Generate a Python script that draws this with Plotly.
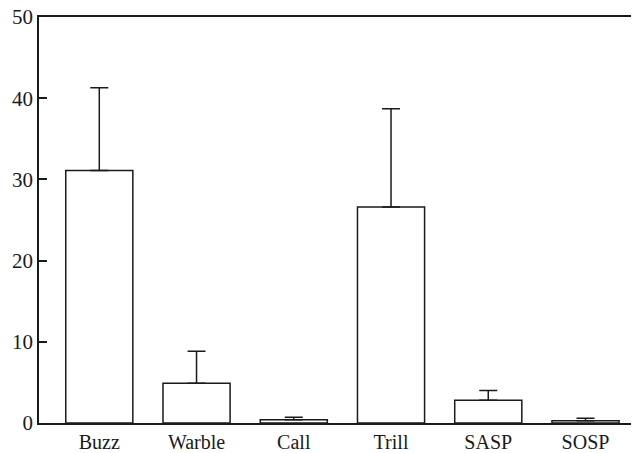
import plotly.graph_objects as go

categories = ["Buzz", "Warble", "Call", "Trill", "SASP", "SOSP"]
means = [31.1, 4.9, 0.4, 26.6, 2.8, 0.28]
errors_plus = [10.2, 3.95, 0.3, 12.1, 1.2, 0.3]
y_ticks = [0, 10, 20, 30, 40, 50]

fig = go.Figure()
fig.add_trace(go.Bar(
    x=categories, y=means,
    marker=dict(color="white", line=dict(color="#1a1a1a", width=1.5)),
    error_y=dict(type="data", array=errors_plus, symmetric=False,
                 arrayminus=[0] * len(means), color="#1a1a1a",
                 thickness=1.5, width=9),
    width=0.69,
))

font = dict(family="Liberation Serif", size=21, color="#1a1a1a")
xfont = dict(family="Liberation Serif", size=20, color="#1a1a1a")
fig.update_layout(
    width=631, height=445,
    margin=dict(l=31, r=0, t=9, b=30),
    paper_bgcolor="white", plot_bgcolor="white",
    showlegend=False,
    font=font,
    xaxis=dict(range=[-0.62, 5.55], showline=True, mirror=True,
               linecolor="#1a1a1a", linewidth=1.5, showgrid=False,
               ticks="", tickfont=xfont, zeroline=False, automargin=False,
               ticklabeloverflow="allow"),
    yaxis=dict(range=[0, 50], tickvals=y_ticks, showline=True,
               linecolor="#1a1a1a", linewidth=1.5, showgrid=False,
               ticks="inside", ticklen=8, tickwidth=1.5, tickcolor="#1a1a1a",
               tickfont=font, zeroline=False, ticklabeloverflow="allow",
               automargin=False),
)
fig.write_html("out.html")
